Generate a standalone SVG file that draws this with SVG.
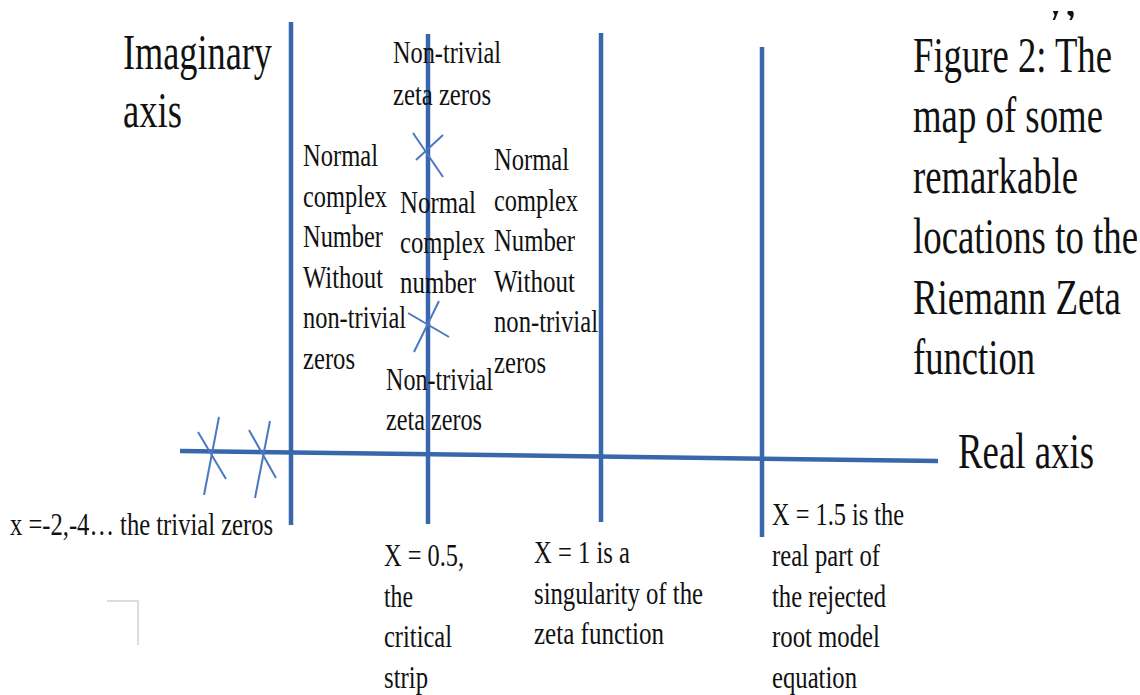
<svg xmlns="http://www.w3.org/2000/svg" width="1140" height="695" viewBox="0 0 1140 695">
<style>
.axis{stroke:#3867AC;stroke-width:4.5;stroke-linecap:butt;fill:none}
.mark{stroke:#4A78C2;stroke-width:2;fill:none}
.s{font-family:"Liberation Serif","Times New Roman",serif;font-size:32px;fill:#111}
.l{font-family:"Liberation Serif","Times New Roman",serif;font-size:51px;fill:#111}
</style>
<defs>
<clipPath id="frag"><rect x="1030" y="11" width="60" height="9"/></clipPath>
</defs>
<rect width="1140" height="695" fill="#fff"/>

<g id="connectors">
<line class="axis" x1="180" y1="451" x2="938" y2="461"/>
<line class="axis" x1="291" y1="22" x2="291" y2="525"/>
<line class="axis" x1="428" y1="34" x2="428" y2="524"/>
<line class="axis" x1="601" y1="33" x2="601" y2="522"/>
<line class="axis" x1="762" y1="47" x2="762" y2="537"/>
</g>

<g id="markers">
<g id="trivial-zero-1">
<line class="mark" x1="198" y1="432" x2="226" y2="479"/>
<line class="mark" x1="219" y1="417" x2="204" y2="495"/>
</g>
<g id="trivial-zero-2">
<line class="mark" x1="249" y1="430" x2="276" y2="478"/>
<line class="mark" x1="270" y1="421" x2="255" y2="498"/>
</g>
<g id="nontrivial-zero-upper">
<line class="mark" x1="413" y1="133" x2="443" y2="177"/>
<line class="mark" x1="443" y1="135" x2="416" y2="160"/>
</g>
<g id="nontrivial-zero-lower">
<line class="mark" x1="408" y1="313" x2="449" y2="337"/>
<line class="mark" x1="439" y1="301" x2="414" y2="352"/>
</g>
</g>

<g id="corner-mark">
<polyline points="107,601 138,601 138,645" fill="none" stroke="#dcdcdc" stroke-width="2"/>
</g>

<g id="fragment" clip-path="url(#frag)">
<text class="l" x="1043" y="15" textLength="34" lengthAdjust="spacingAndGlyphs">y,</text>
</g>

<g id="imaginary-axis-label">
<text class="l" x="123" y="69" textLength="149" lengthAdjust="spacingAndGlyphs">Imaginary</text>
<text class="l" x="123" y="127" textLength="59" lengthAdjust="spacingAndGlyphs">axis</text>
</g>

<g id="real-axis-label">
<text class="l" x="958" y="468" textLength="136" lengthAdjust="spacingAndGlyphs">Real axis</text>
</g>

<g id="caption">
<text class="l" x="913" y="72" textLength="199" lengthAdjust="spacingAndGlyphs">Figure 2: The</text>
<text class="l" x="913" y="132" textLength="190" lengthAdjust="spacingAndGlyphs">map of some</text>
<text class="l" x="913" y="193" textLength="165" lengthAdjust="spacingAndGlyphs">remarkable</text>
<text class="l" x="913" y="253" textLength="225" lengthAdjust="spacingAndGlyphs">locations to the</text>
<text class="l" x="913" y="314" textLength="208" lengthAdjust="spacingAndGlyphs">Riemann Zeta</text>
<text class="l" x="913" y="374" textLength="122" lengthAdjust="spacingAndGlyphs">function</text>
</g>

<g id="nontrivial-top">
<text class="s" x="393" y="63" textLength="108" lengthAdjust="spacingAndGlyphs">Non-trivial</text>
<text class="s" x="393" y="105" textLength="98" lengthAdjust="spacingAndGlyphs">zeta zeros</text>
</g>

<g id="left-region">
<text class="s" x="303" y="166" textLength="75" lengthAdjust="spacingAndGlyphs">Normal</text>
<text class="s" x="303" y="207" textLength="84" lengthAdjust="spacingAndGlyphs">complex</text>
<text class="s" x="303" y="247" textLength="80" lengthAdjust="spacingAndGlyphs">Number</text>
<text class="s" x="303" y="288" textLength="80" lengthAdjust="spacingAndGlyphs">Without</text>
<text class="s" x="303" y="328" textLength="103" lengthAdjust="spacingAndGlyphs">non-trivial</text>
<text class="s" x="303" y="369" textLength="52" lengthAdjust="spacingAndGlyphs">zeros</text>
</g>

<g id="middle-region">
<text class="s" x="400" y="213" textLength="76" lengthAdjust="spacingAndGlyphs">Normal</text>
<text class="s" x="400" y="253" textLength="85" lengthAdjust="spacingAndGlyphs">complex</text>
<text class="s" x="400" y="293" textLength="76" lengthAdjust="spacingAndGlyphs">number</text>
</g>

<g id="right-region">
<text class="s" x="494" y="170" textLength="75" lengthAdjust="spacingAndGlyphs">Normal</text>
<text class="s" x="494" y="211" textLength="84" lengthAdjust="spacingAndGlyphs">complex</text>
<text class="s" x="494" y="251" textLength="81" lengthAdjust="spacingAndGlyphs">Number</text>
<text class="s" x="494" y="292" textLength="81" lengthAdjust="spacingAndGlyphs">Without</text>
<text class="s" x="494" y="332" textLength="104" lengthAdjust="spacingAndGlyphs">non-trivial</text>
<text class="s" x="494" y="373" textLength="52" lengthAdjust="spacingAndGlyphs">zeros</text>
</g>

<g id="nontrivial-bottom">
<text class="s" x="386" y="390" textLength="107" lengthAdjust="spacingAndGlyphs">Non-trivial</text>
<text class="s" x="386" y="430" textLength="96" lengthAdjust="spacingAndGlyphs">zeta zeros</text>
</g>

<g id="trivial-zeros-label">
<text class="s" x="10" y="535" textLength="263" lengthAdjust="spacingAndGlyphs">x =-2,-4… the trivial zeros</text>
</g>

<g id="critical-strip-label">
<text class="s" x="384" y="566" textLength="80" lengthAdjust="spacingAndGlyphs">X = 0.5,</text>
<text class="s" x="384" y="607" textLength="29" lengthAdjust="spacingAndGlyphs">the</text>
<text class="s" x="384" y="647" textLength="68" lengthAdjust="spacingAndGlyphs">critical</text>
<text class="s" x="384" y="688" textLength="44" lengthAdjust="spacingAndGlyphs">strip</text>
</g>

<g id="singularity-label">
<text class="s" x="534" y="563" textLength="96" lengthAdjust="spacingAndGlyphs">X = 1 is a</text>
<text class="s" x="534" y="604" textLength="169" lengthAdjust="spacingAndGlyphs">singularity of the</text>
<text class="s" x="534" y="644" textLength="130" lengthAdjust="spacingAndGlyphs">zeta function</text>
</g>

<g id="rejected-root-label">
<text class="s" x="772" y="525" textLength="132" lengthAdjust="spacingAndGlyphs">X = 1.5 is the</text>
<text class="s" x="772" y="566" textLength="108" lengthAdjust="spacingAndGlyphs">real part of</text>
<text class="s" x="772" y="607" textLength="114" lengthAdjust="spacingAndGlyphs">the rejected</text>
<text class="s" x="772" y="647" textLength="108" lengthAdjust="spacingAndGlyphs">root model</text>
<text class="s" x="772" y="688" textLength="85" lengthAdjust="spacingAndGlyphs">equation</text>
</g>
</svg>
